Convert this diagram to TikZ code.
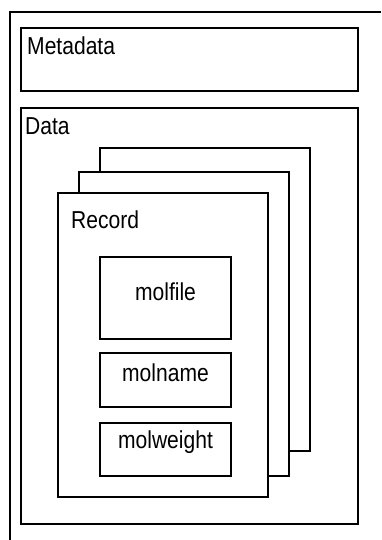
\documentclass[tikz,border=0pt]{standalone}
\usepackage{fontspec}
\setmainfont{Liberation Sans}[FakeStretch=0.86]
\begin{document}
\begin{tikzpicture}[x=1pt,y=-1pt,
  box/.style={draw,line width=2pt,anchor=north west,inner sep=0pt,outer sep=0pt},
  hidden/.style={anchor=north west,inner sep=0pt,outer sep=0pt},
  lbl/.style={inner sep=0pt,font=\fontsize{24.5}{29}\selectfont},
  edge/.style={line width=2pt}]
\fill[white] (0,0) rectangle (381,540);
\useasboundingbox (0,0) rectangle (381,540);
% outer frame (partial)
\coordinate (otr) at (381,12);
\coordinate (otl) at (10,12);
\coordinate (obl) at (10,540);
\draw[edge] (otr) -- (otl) -- (obl);
% metadata
\node[box,minimum width=337,minimum height=63] (meta) at (21,28) {};
\node[lbl,anchor=base west] (metal) at (27,55) {Metadata};
% data
\node[box,minimum width=337,minimum height=416] (data) at (21,108) {};
\node[lbl,anchor=base west] (datal) at (25,135) {Data};
% stacked records
\node[hidden,minimum width=210,minimum height=303] (rec3) at (100,148) {};
\node[hidden,minimum width=210,minimum height=304] (rec2) at (79,172) {};
\node[box,minimum width=210,minimum height=304] (rec1) at (58,193) {};
\draw[edge] (rec2.north -| rec3.west) -- (rec3.north west) -- (rec3.north east)
  -- (rec3.south east) -- (rec3.south -| rec2.east);
\draw[edge] (rec1.north -| rec2.west) -- (rec2.north west) -- (rec2.north east)
  -- (rec2.south east) -- (rec2.south -| rec1.east);
\node[lbl,anchor=base west] (recl) at (71,228) {Record};
% fields
\node[box,minimum width=131,minimum height=82] (molfile) at (100,257) {};
\node[lbl,anchor=base] (molfilel) at (molfile.north |- 0,300) {molfile};
\node[box,minimum width=131,minimum height=54] (molname) at (100,353) {};
\node[lbl,anchor=base] (molnamel) at (molname.north |- 0,381) {molname};
\node[box,minimum width=131,minimum height=53] (molweight) at (100,423) {};
\node[lbl,anchor=base] (molweightl) at (molweight.north |- 0,448) {molweight};
\end{tikzpicture}
\end{document}
